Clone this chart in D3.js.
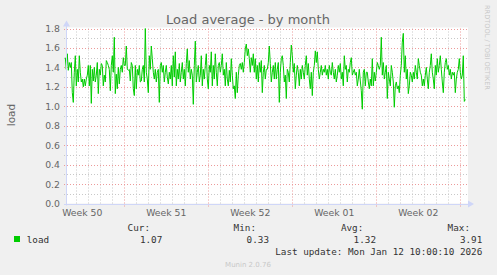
<!DOCTYPE html>
<html>
<head>
<meta charset="utf-8">
<script src="https://cdn.jsdelivr.net/npm/d3@7"></script>
<style>
  html, body { margin: 0; padding: 0; background: #f0f0f0; }
  svg { display: block; }
</style>
</head>
<body>
<svg id="chart" width="497" height="275"></svg>
<script>
// load average, one sample every 2 hours
const loadValues = [
  1.50,1.38,1.54,1.37,1.45,1.40,1.45,1.14,1.04,1.35,1.52,1.21,1.38,1.25,1.52,1.35,1.25,1.28,1.20,1.28,
  1.21,1.28,1.32,1.42,1.21,1.42,1.03,1.38,1.26,1.40,1.25,1.32,1.45,1.13,1.38,1.32,1.44,1.42,1.21,1.32,
  1.25,1.47,1.45,1.42,1.38,1.16,1.42,1.52,1.35,1.71,1.13,1.33,1.18,1.40,1.23,1.38,1.42,1.35,1.50,1.42,
  1.42,1.62,1.38,1.37,1.38,1.26,1.45,1.42,1.18,1.11,1.42,1.18,1.38,1.32,1.42,1.25,1.26,1.38,1.42,1.25,
  1.80,1.35,1.28,1.14,1.52,1.38,1.62,1.49,1.35,1.28,1.38,1.25,1.35,1.38,1.04,1.42,1.45,1.35,1.42,1.25,
  1.35,1.42,
  1.30,1.23,1.35,1.28,1.42,1.21,1.52,1.30,1.56,1.21,1.38,1.28,1.44,1.25,1.35,1.45,1.28,1.38,1.21,1.44,
  1.59,1.35,1.47,1.28,1.38,1.32,1.02,1.42,1.67,1.25,1.35,1.42,1.25,1.32,1.52,1.21,1.38,1.28,1.42,1.54,
  1.28,1.18,1.42,1.35,1.56,1.21,1.42,1.28,1.54,1.35,1.21,1.42,1.45,1.35,1.42,1.54,1.32,1.38,1.21,1.45,
  1.28,1.21,1.37,1.25,1.49,1.32,1.18,1.21,1.08,1.35,1.14,1.32,1.42,1.44,1.38,1.45,1.35,1.45,1.59,1.64,
  1.52,1.59,1.49,1.35,1.50,1.42,1.54,1.35,1.49,1.28,1.42,1.25,1.45,1.35,1.47,1.14,1.35,1.42,1.28,1.38,
  1.38,1.45,1.62,1.44,1.25,1.35,1.42,1.28,1.45,1.28,1.38,1.45,1.04,1.35,1.49,1.52,1.42,1.25,1.32,1.08,
  1.38,1.35,1.25,1.45,1.63,1.52,1.35,1.44,1.18,1.32,1.42,1.35,1.21,1.38,1.28,1.42,1.35,1.28,1.42,1.52,
  1.32,1.44,1.28,1.18,1.35,1.11,1.35,1.42,1.57,1.45,1.56,1.38,1.28,1.35,1.42,1.32,1.38,1.35,1.42,1.32,
  1.38,1.28,1.42,1.35,1.32,1.45,1.35,1.28,1.38,1.25,1.32,1.42,1.35,1.44,1.28,1.35,1.21,1.52,1.38,1.42,
  1.25,1.38,1.35,1.45,1.50,1.32,1.35,1.38,1.32,1.35,1.21,1.28,1.38,1.26,1.16,0.97,1.35,1.38,1.21,1.35,
  1.35,1.25,1.18,1.28,1.21,1.49,1.21,1.35,1.26,1.35,1.45,1.42,1.38,1.42,1.71,1.32,1.45,1.28,1.35,1.42,
  1.08,1.35,1.28,1.21,1.42,1.35,1.25,0.99,1.21,1.25,1.18,1.21,1.14,1.32,1.42,1.66,1.75,1.35,1.52,1.28,
  1.38,1.13,1.21,1.35,1.32,1.25,1.35,1.28,1.42,1.35,1.28,1.49,1.42,1.35,1.32,1.21,1.28,1.21,1.32,1.40,
  1.28,1.18,1.35,1.42,1.54,1.35,1.28,1.18,1.42,1.32,1.49,1.35,1.42,1.52,1.38,1.25,1.14,1.35,1.45,1.49,
  1.38,1.42,1.32,1.38,1.28,1.35,1.32,1.35,1.14,1.28,1.35,1.38,1.49,1.35,1.28,1.32,1.52,1.05,1.07
];

const yTicks = [0.0, 0.2, 0.4, 0.6, 0.8, 1.0, 1.2, 1.4, 1.6, 1.8];
const weekLabels = ["Week 50", "Week 51", "Week 52", "Week 01", "Week 02"];
const weekStarts = [
  Date.UTC(2025, 11, 8), Date.UTC(2025, 11, 15), Date.UTC(2025, 11, 22),
  Date.UTC(2025, 11, 29), Date.UTC(2026, 0, 5), Date.UTC(2026, 0, 12)
];
const statNames = ["Cur:", "Min:", "Avg:", "Max:"];
const statValues = ["1.07", "0.33", "1.32", "3.91"];

const HOUR = 3600 * 1000;
const lastSample = Date.UTC(2026, 0, 12, 10, 0);
const domainStart = Date.UTC(2025, 11, 10, 3, 24);
const domainEnd = Date.UTC(2026, 0, 12, 11, 24);

const plotLeft = 66, plotRight = 466, plotTop = 28.5, plotBottom = 203.5;

const svg = d3.select("svg#chart");

const x = d3.scaleUtc()
    .domain([domainStart, domainEnd])
    .range([plotLeft, plotRight]);

const y = d3.scaleLinear()
    .domain([0, 1.8])
    .range([plotBottom, plotTop]);

const n = loadValues.length;
const series = loadValues.map((v, i) => ({ t: lastSample - (n - 1 - i) * 2 * HOUR, v: v }));

const crisp = v => Math.round(v) + 0.5;

// canvas
svg.append("rect")
    .attr("x", plotLeft)
    .attr("y", plotTop - 1)
    .attr("width", plotRight - plotLeft + 2)
    .attr("height", plotBottom - plotTop + 1)
    .attr("fill", "#fff");

const grid = svg.append("g").attr("class", "grid");

// minor horizontal grid every 0.1
const minorY = d3.range(1, 18, 2).map(k => k / 10);
grid.selectAll("line.hminor")
    .data(minorY)
    .enter()
    .append("line")
    .attr("x1", plotLeft - 2).attr("x2", plotRight + 2)
    .attr("y1", d => crisp(y(d))).attr("y2", d => crisp(y(d)))
    .attr("stroke", "#c8c8c8")
    .attr("stroke-dasharray", "1,2");

// minor vertical grid every day
const days = d3.utcDay.range(new Date(domainStart), new Date(domainEnd))
    .filter(d => d.getUTCDay() !== 1);
grid.selectAll("line.vminor")
    .data(days)
    .enter()
    .append("line")
    .attr("x1", d => crisp(x(d))).attr("x2", d => crisp(x(d)))
    .attr("y1", plotTop).attr("y2", plotBottom + 2)
    .attr("stroke", "#c8c8c8")
    .attr("stroke-dasharray", "1,2");

// major horizontal grid
grid.selectAll("line.hmajor")
    .data(yTicks.slice(1))
    .enter()
    .append("line")
    .attr("x1", plotLeft - 2).attr("x2", plotRight + 2)
    .attr("y1", d => crisp(y(d))).attr("y2", d => crisp(y(d)))
    .attr("stroke", "#ec9a9a")
    .attr("stroke-dasharray", "1,2");

// major vertical grid on Mondays
grid.selectAll("line.vmajor")
    .data(weekStarts.filter(t => t > domainStart && t < domainEnd))
    .enter()
    .append("line")
    .attr("x1", d => crisp(x(d))).attr("x2", d => crisp(x(d)))
    .attr("y1", plotTop).attr("y2", plotBottom + 3)
    .attr("stroke", "#ec9a9a")
    .attr("stroke-dasharray", "1,2");

// load line
const line = d3.line()
    .x(d => x(d.t))
    .y(d => y(d.v));

svg.append("path")
    .datum(series)
    .attr("d", line)
    .attr("fill", "none")
    .attr("stroke", "#00cc00")
    .attr("stroke-width", 1);

// axes with arrows
const axisColor = "#cfd6f8";
svg.append("line")
    .attr("x1", plotLeft - 2).attr("x2", plotRight + 3)
    .attr("y1", crisp(plotBottom)).attr("y2", crisp(plotBottom))
    .attr("stroke", axisColor);
svg.append("line")
    .attr("x1", crisp(plotLeft)).attr("x2", crisp(plotLeft))
    .attr("y1", plotBottom + 2).attr("y2", plotTop - 4)
    .attr("stroke", axisColor);
svg.append("path")
    .attr("d", `M${plotRight + 2},${plotBottom - 3} L${plotRight + 8},${plotBottom + 0.5} L${plotRight + 2},${plotBottom + 4} Z`)
    .attr("fill", axisColor);
svg.append("path")
    .attr("d", `M${plotLeft - 3},${plotTop - 2} L${plotLeft + 0.5},${plotTop - 8} L${plotLeft + 4},${plotTop - 2} Z`)
    .attr("fill", axisColor);

const fontColor = "#666";
const sans = "DejaVu Sans, sans-serif";
const mono = "DejaVu Sans Mono, monospace";

// y tick labels
svg.append("g")
    .selectAll("text")
    .data(yTicks)
    .enter()
    .append("text")
    .attr("x", 60)
    .attr("y", d => y(d) + 3.5)
    .attr("text-anchor", "end")
    .attr("font-family", sans)
    .attr("font-size", "9.3px")
    .attr("fill", fontColor)
    .text(d => d.toFixed(1));

// week labels, centred on each week
svg.append("g")
    .selectAll("text")
    .data(weekLabels)
    .enter()
    .append("text")
    .attr("x", (d, i) => x(weekStarts[i] + 3.5 * 24 * HOUR))
    .attr("y", 216)
    .attr("text-anchor", "middle")
    .attr("font-family", sans)
    .attr("font-size", "9.3px")
    .attr("fill", fontColor)
    .text(d => d);

// title
svg.append("text")
    .attr("x", 248)
    .attr("y", 24)
    .attr("text-anchor", "middle")
    .attr("font-family", sans)
    .attr("font-size", "13px")
    .attr("fill", fontColor)
    .text("Load average - by month");

// vertical axis label
svg.append("text")
    .attr("transform", "translate(15,115) rotate(-90)")
    .attr("text-anchor", "middle")
    .attr("font-family", sans)
    .attr("font-size", "10.5px")
    .attr("fill", fontColor)
    .text("load");

// rrdtool watermark
svg.append("text")
    .attr("transform", "translate(485,5) rotate(90)")
    .attr("font-family", sans)
    .attr("font-size", "6.6px")
    .attr("fill", "#c8c8c8")
    .text("RRDTOOL / TOBI OETIKER");

// legend
svg.append("rect")
    .attr("x", 14).attr("y", 236)
    .attr("width", 6).attr("height", 6)
    .attr("fill", "#00cc00");

svg.append("text")
    .attr("x", 26.7).attr("y", 242.7)
    .attr("font-family", mono)
    .attr("font-size", "9.3px")
    .attr("fill", "#333")
    .text("load");

const statEnds = [150, 256, 363.3, 470];
const valueEnds = [162.3, 269, 376, 482.3];

svg.append("g")
    .selectAll("text")
    .data(statNames)
    .enter()
    .append("text")
    .attr("x", (d, i) => statEnds[i])
    .attr("y", 230.7)
    .attr("text-anchor", "end")
    .attr("font-family", mono)
    .attr("font-size", "9.3px")
    .attr("fill", "#333")
    .text(d => d);

svg.append("g")
    .selectAll("text")
    .data(statValues)
    .enter()
    .append("text")
    .attr("x", (d, i) => valueEnds[i])
    .attr("y", 242.7)
    .attr("text-anchor", "end")
    .attr("font-family", mono)
    .attr("font-size", "9.3px")
    .attr("fill", "#333")
    .text(d => d);

svg.append("text")
    .attr("x", 482.3).attr("y", 255)
    .attr("text-anchor", "end")
    .attr("font-family", mono)
    .attr("font-size", "9.3px")
    .attr("fill", "#333")
    .text("Last update: Mon Jan 12 10:00:10 2026");

svg.append("text")
    .attr("x", 248).attr("y", 266.5)
    .attr("text-anchor", "middle")
    .attr("font-family", sans)
    .attr("font-size", "7px")
    .attr("fill", "#c8c8c8")
    .text("Munin 2.0.76");
</script>
</body>
</html>
